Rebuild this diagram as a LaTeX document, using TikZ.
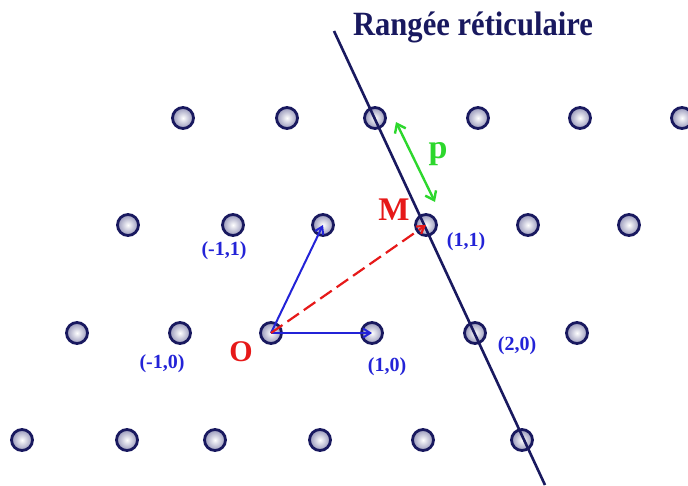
\documentclass[tikz,border=0pt]{standalone}
\usepackage{fontspec}
\setmainfont{Liberation Serif}
\usetikzlibrary{arrows.meta}
\definecolor{navy}{RGB}{25,25,95}
\definecolor{lblue}{RGB}{35,35,215}
\definecolor{lred}{RGB}{230,25,25}
\definecolor{lgreen}{RGB}{45,215,45}
\definecolor{atomedge}{RGB}{150,150,185}
\tikzset{
  atom/.style={circle, minimum size=21pt, inner sep=0pt, draw=navy, line width=2.8pt,
    inner color=white, outer color=atomedge},
  vec/.style={draw=lblue, line width=2pt, -{Straight Barb[length=7pt,width=9pt]}},
  lbl/.style={text=lblue, font=\bfseries\fontsize{20}{20}\selectfont},
}
\begin{document}
\begin{tikzpicture}[x=1pt,y=-1pt]
\useasboundingbox (0,0) rectangle (688,485);
% row 1
\node[atom] (r1a) at (183,118) {};
\node[atom] (r1b) at (287,118) {};
\node[atom] (r1c) at (375,118) {};
\node[atom] (r1d) at (478,118) {};
\node[atom] (r1e) at (580,118) {};
\node[atom] (r1f) at (682,118) {};
% row 2
\node[atom] (r2a) at (128,225) {};
\node[atom] (r2b) at (233,225) {};
\node[atom] (r2c) at (323,225) {};
\node[atom] (r2d) at (426,225) {};
\node[atom] (r2e) at (528,225) {};
\node[atom] (r2f) at (629,225) {};
% row 3
\node[atom] (r3a) at (77,333) {};
\node[atom] (r3b) at (180,333) {};
\node[atom] (r3c) at (271,333) {};
\node[atom] (r3d) at (372,333) {};
\node[atom] (r3e) at (475,333) {};
\node[atom] (r3f) at (577,333) {};
% row 4
\node[atom] (r4a) at (22,440) {};
\node[atom] (r4b) at (127,440) {};
\node[atom] (r4c) at (215,440) {};
\node[atom] (r4d) at (320,440) {};
\node[atom] (r4e) at (423,440) {};
\node[atom] (r4f) at (522,440) {};
% lattice row line
\coordinate (lt) at (334,31);
\coordinate (lb) at (545,485);
\draw[navy, line width=2.6pt] (lt) -- (lb);
% vectors
\draw[vec] (r3c.center) -- (r2c.center);
\draw[vec] (r3c.center) -- (r3d.center);
\draw[lred, line width=2.2pt, dash pattern=on 14pt off 6pt, -{Straight Barb[length=7pt,width=9pt]}] (r3c.center) -- (r2d.center);
% period p
\coordinate (pa) at (396,122);
\coordinate (pb) at (435,202);
\draw[lgreen, line width=2.4pt, {Straight Barb[length=8pt,width=12pt]}-{Straight Barb[length=8pt,width=12pt]}] (pa) -- (pb);
\node[text=lgreen, font=\bfseries\fontsize{34}{34}\selectfont] (p) at (438,154) {p};
% labels
\node[text=navy, font=\bfseries\fontsize{34}{34}\selectfont, xscale=0.9, anchor=base] (title) at (473,35) {Rangée réticulaire};
\node[text=lred, font=\bfseries\fontsize{33}{33}\selectfont] (M) at (394,210) {M};
\node[text=lred, font=\bfseries\fontsize{30}{30}\selectfont] (O) at (241,352) {O};
\node[lbl] (l1) at (224,251) {(-1,1)};
\node[lbl] (l2) at (162,364) {(-1,0)};
\node[lbl] (l3) at (387,367) {(1,0)};
\node[lbl] (l4) at (517,346) {(2,0)};
\node[lbl] (l5) at (466,242) {(1,1)};
\end{tikzpicture}
\end{document}
